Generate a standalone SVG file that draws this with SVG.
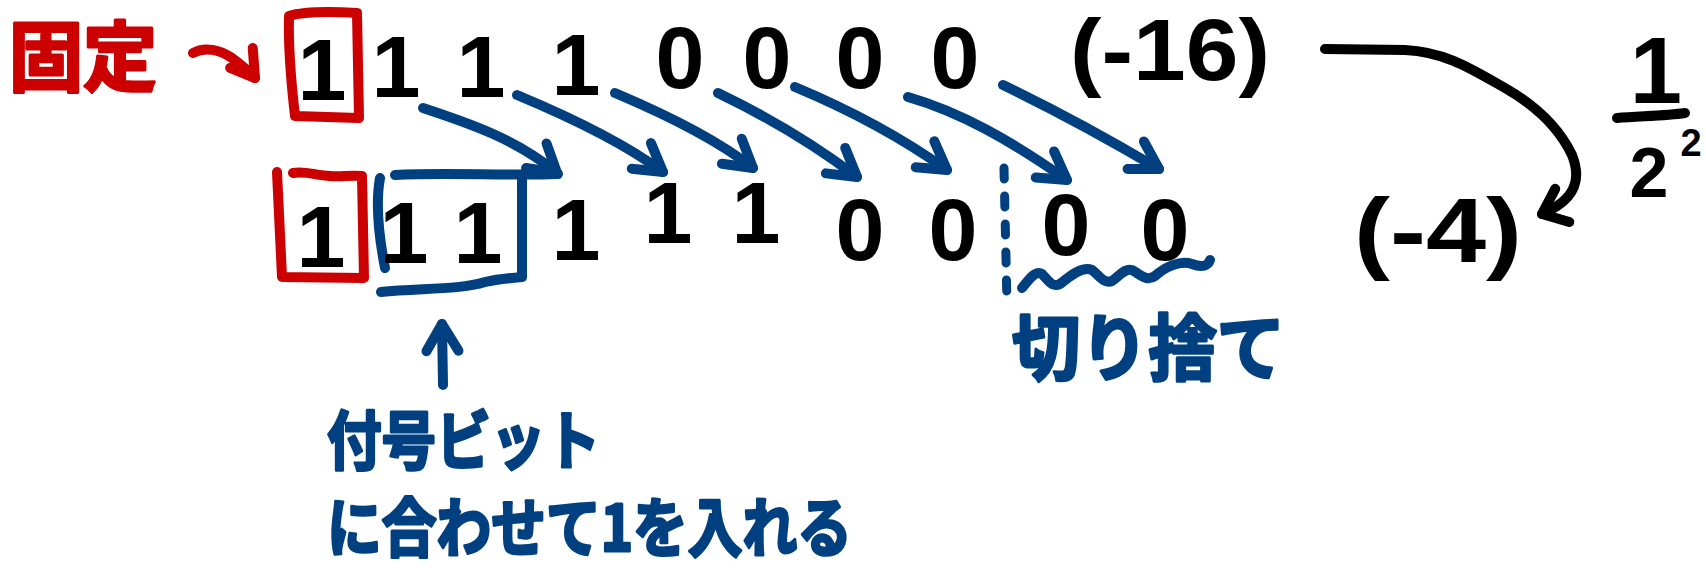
<svg xmlns="http://www.w3.org/2000/svg" width="1706" height="568" viewBox="0 0 1706 568">
<style>
.red{fill:none;stroke:#cc0000;stroke-width:10;stroke-linecap:round;stroke-linejoin:round}
.blue{fill:none;stroke:#004080;stroke-width:10;stroke-linecap:round;stroke-linejoin:round}
.black{fill:none;stroke:#000;stroke-width:10;stroke-linecap:round;stroke-linejoin:round}
.dash{fill:none;stroke:#004080;stroke-width:9;stroke-linecap:round;stroke-dasharray:11 17}
.digit{font-family:'Liberation Sans',Arial,sans-serif;font-weight:700;font-size:88px;fill:#000;text-anchor:middle}
.num{font-family:'Liberation Sans',Arial,sans-serif;font-weight:700;fill:#000}
.jp{font-family:'Noto Sans CJK JP','Noto Sans CJK SC',sans-serif;font-weight:700;stroke-width:3;stroke-linejoin:round}
</style>
<defs>
<marker id="hb" markerUnits="userSpaceOnUse" orient="auto" overflow="visible" refX="0" refY="0" markerWidth="40" markerHeight="40">
<path d="M-27,-16 L0,0 L-27,16" fill="none" stroke="#004080" stroke-width="10" stroke-linecap="round" stroke-linejoin="round"/>
</marker>
<marker id="hk" markerUnits="userSpaceOnUse" orient="auto" overflow="visible" refX="0" refY="0" markerWidth="40" markerHeight="40">
<path d="M-22,-18 L0,0 L-22,18" fill="none" stroke="#000" stroke-width="10" stroke-linecap="round" stroke-linejoin="round"/>
</marker>
<marker id="hr" markerUnits="userSpaceOnUse" orient="auto" overflow="visible" refX="0" refY="0" markerWidth="40" markerHeight="40">
<path d="M-24,-18 L0,0 L-24,12" fill="none" stroke="#cc0000" stroke-width="10" stroke-linecap="round" stroke-linejoin="round"/>
</marker>
</defs>
<rect width="1706" height="568" fill="#fff"/>

<g id="label-kotei">
<text class="jp" x="9" y="85" font-size="76" fill="#cc0000" stroke="#cc0000" textLength="148" lengthAdjust="spacingAndGlyphs">固定</text>
</g>

<g id="top-fixed">
<path class="red" d="M289,16 C305,11 340,12 357,13 L359,118 L295,116 C292,90 288,50 289,16 Z"/>
<text class="digit" x="322" y="100">1</text>
</g>

<g id="top-bits">
<g id="t1"><text class="digit" x="396" y="97">1</text></g>
<g id="t2"><text class="digit" x="481" y="97">1</text></g>
<g id="t3"><text class="digit" x="576" y="95">1</text></g>
<g id="t4"><text class="digit" x="680" y="88">0</text></g>
<g id="t5"><text class="digit" x="767" y="88">0</text></g>
<g id="t6"><text class="digit" x="860" y="88">0</text></g>
<g id="t7"><text class="digit" x="955" y="88">0</text></g>
</g>

<g id="value-top">
<text class="num" x="1070" y="80" font-size="88" textLength="200" lengthAdjust="spacingAndGlyphs">(-16)</text>
</g>

<g id="bottom-fixed">
<path class="red" d="M277,172 L282,277 L364,278 L362,176 C350,175 340,177 330,176 C315,175 305,171 293,173"/>
<text class="digit" x="321" y="267">1</text>
</g>

<g id="sign-bracket">
<path class="blue" d="M380,178 C376,200 378,232 385,268"/>
<path class="blue" d="M395,175 C450,172 500,176 558,174"/>
<path class="blue" d="M522,176 L522,277 C510,278 498,279 485,282 C460,290 420,288 381,292"/>
<text class="digit" x="404" y="263">1</text>
<text class="digit" x="478" y="263">1</text>
</g>

<g id="bottom-bits">
<g id="b3"><text class="digit" x="576" y="260">1</text></g>
<g id="b4"><text class="digit" x="668" y="243">1</text></g>
<g id="b5"><text class="digit" x="756" y="243">1</text></g>
<g id="b6"><text class="digit" x="860" y="260">0</text></g>
<g id="b7"><text class="digit" x="953" y="260">0</text></g>
</g>

<g id="cut-bits">
<path class="dash" d="M1004,168 L1007,304"/>
<text class="digit" x="1066" y="255">0</text>
<text class="digit" x="1165" y="260">0</text>
<path class="blue" d="M1022,288 C1030,278 1036,270 1042,274 C1048,280 1052,288 1060,284 C1070,276 1082,266 1092,270 C1100,276 1104,284 1112,281 C1120,276 1124,268 1132,270 C1140,274 1146,282 1155,276 C1165,267 1180,260 1192,264 C1202,268 1208,266 1210,260"/>
<text class="jp" x="1012" y="374" font-size="72" fill="#004080" stroke="#004080" textLength="273" lengthAdjust="spacingAndGlyphs">切り捨て</text>
</g>

<g id="value-bottom">
<text class="num" x="1354" y="262" font-size="90" textLength="168" lengthAdjust="spacingAndGlyphs">(-4)</text>
</g>

<g id="factor">
<text class="num" x="1656" y="103" font-size="94" text-anchor="middle">1</text>
<path class="black" d="M1617,118 C1640,116 1665,116 1685,113"/>
<text class="num" x="1649" y="197" font-size="70" text-anchor="middle">2</text>
<text class="num" x="1691" y="156" font-size="38" text-anchor="middle">2</text>
</g>

<g id="sign-note">
<text class="jp" x="327" y="464" font-size="64" fill="#004080" stroke="#004080" textLength="273" lengthAdjust="spacingAndGlyphs">付号ビット</text>
<text class="jp" x="327" y="551" font-size="64" fill="#004080" stroke="#004080" textLength="525" lengthAdjust="spacingAndGlyphs">に合わせて1を入れる</text>
</g>

<g id="connectors">
<path class="red" marker-end="url(#hr)" d="M193,53 C205,46 220,50 232,58 C240,64 248,70 255,78"/>
<path class="blue" marker-end="url(#hb)" d="M423,108 C465,122 515,138 557,173"/>
<path class="blue" marker-end="url(#hb)" d="M517,95 C565,115 620,140 663,172"/>
<path class="blue" marker-end="url(#hb)" d="M615,93 C660,112 715,138 753,168"/>
<path class="blue" marker-end="url(#hb)" d="M718,93 C770,118 815,145 857,177"/>
<path class="blue" marker-end="url(#hb)" d="M795,87 C850,110 905,140 947,170"/>
<path class="blue" marker-end="url(#hb)" d="M908,97 C960,112 1010,140 1067,180"/>
<path class="blue" marker-end="url(#hb)" d="M1003,85 C1055,110 1110,140 1159,169"/>
<path class="blue" marker-end="url(#hb)" d="M443,385 L442,324"/>
<path class="black" marker-end="url(#hk)" d="M1325,49 L1405,50 C1445,52 1470,68 1505,88 C1540,108 1560,130 1572,155 C1582,180 1575,200 1542,214"/>
</g>
</svg>
